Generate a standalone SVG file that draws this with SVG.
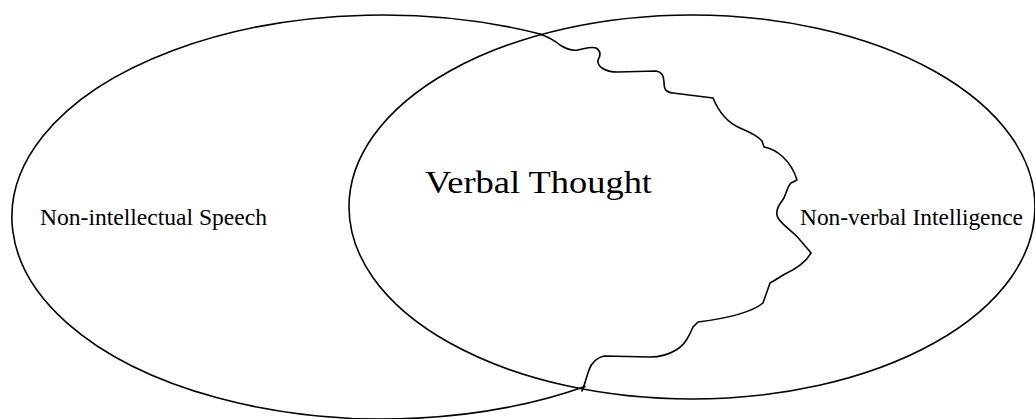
<svg xmlns="http://www.w3.org/2000/svg" width="1035" height="419" viewBox="0 0 1035 419">
<style>
.ln{fill:none;stroke:#000;stroke-width:1.6;stroke-linejoin:round;stroke-linecap:round}
.lbl{font-family:"Liberation Serif","Times New Roman",serif;fill:#000}
</style>
<rect width="1035" height="419" fill="#fff"/>
<g id="non-verbal-intelligence">
<ellipse class="ln" cx="692" cy="207" rx="343" ry="192"/>
<text class="lbl" x="800" y="225" font-size="23.5" textLength="223" lengthAdjust="spacingAndGlyphs">Non-verbal Intelligence</text>
</g>
<g id="non-intellectual-speech">
<path class="ln" d="M540,34 A371,202 0 1 0 585,386.4"/>
<text class="lbl" x="40" y="225" font-size="23.5" textLength="227" lengthAdjust="spacingAndGlyphs">Non-intellectual Speech</text>
</g>
<g id="verbal-thought">
<path class="ln" d="M540,34 C548,37 554,40 560,45 C566,49 572,51 578,50 C584,49 591,46 596,48 C601,51 601,55 598,60 C597,66 604,72 618,72 L656,71 C662,72 664,76 664,82 C664,90 666,92 673,93 L713,98 C718,110 726,122 740,128 C752,133 758,136 762,141 L764,147 C776,149 791,160 797,180 L791,183 C786,188 787,195 782,201 C778,206 775,212 778,218 C784,227 794,232 800,240 C805,246 809,250 811,253 C806,262 798,268 785,274 C778,278 774,281 770,283 L763,303 C752,312 730,318 698,322 L693,327 C689,336 685,345 676,350 C668,355 660,357 650,357 L604,356 C596,358 591,364 589,370 C586,378 585,384 582,391"/>
<text class="lbl" x="425" y="193" font-size="31" textLength="227" lengthAdjust="spacingAndGlyphs">Verbal Thought</text>
</g>
<g id="connectors"/>
</svg>
